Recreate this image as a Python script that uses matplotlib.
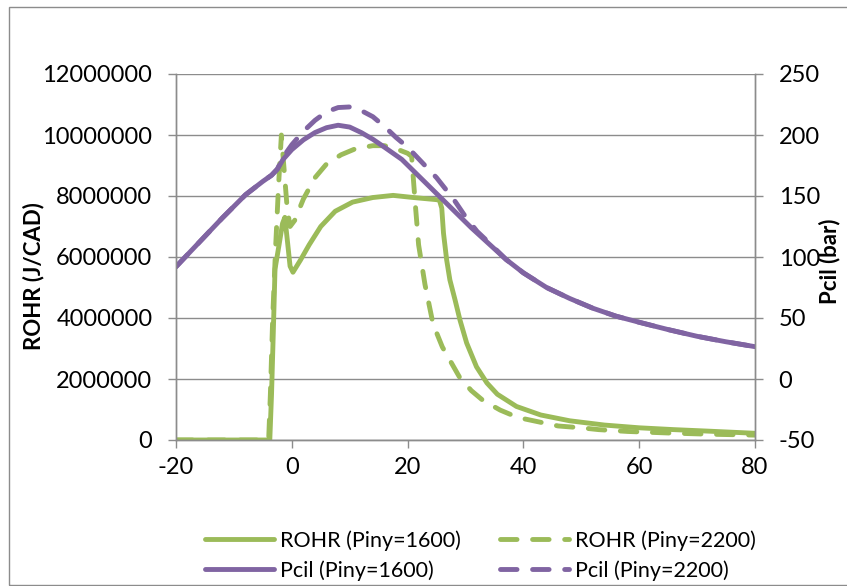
import matplotlib
matplotlib.use('Agg')
import matplotlib.pyplot as plt
from matplotlib.patches import Rectangle

plt.rcParams['font.family'] = ['Lato', 'DejaVu Sans']
plt.rcParams['axes.unicode_minus'] = False

GREEN = '#9BBB59'
PURPLE = '#8064A2'
GRID = '#8c8c8c'

# ROHR (J/CAD), values in millions
rohr1600_x = [-20, -3.8, -3.5, -3.2, -2.9, -2.2, -1.6, -1.2, -0.8, -0.3, 0.2, 1.5, 3, 5, 7.5,
              10.5, 14, 17.5, 21, 25, 25.5, 25.9, 26.2, 26.75, 27.3, 28.2, 29.05, 30.2, 31.9,
              33.7, 35.5, 38.8, 43, 48, 54, 60, 66, 72, 80]
rohr1600_y = [0, 0, 1.5, 3.5, 5.6, 6.4, 7.1, 7.3, 6.6, 5.7, 5.5, 5.9, 6.4, 7.0, 7.5,
              7.8, 7.95, 8.02, 7.95, 7.88, 7.86, 7.6, 6.78, 5.9, 5.25, 4.59, 3.93, 3.18, 2.40,
              1.87, 1.50, 1.10, 0.82, 0.63, 0.49, 0.40, 0.34, 0.29, 0.22]

rohr2200_x = [-20, -4.0, -3.7, -3.3, -2.8, -2.3, -1.8, -1.3, -0.8, -0.3, 0.5, 2, 4, 6, 8.5,
              11, 14, 16, 18, 20, 20.7, 21.3, 21.9, 23, 24.4, 26, 27.5, 29, 31, 33, 36, 39,
              43, 46, 50, 53, 58, 65, 72, 80]
rohr2200_y = [0, 0, 1.5, 4.0, 6.3, 8.3, 10.0, 8.8, 7.6, 7.0, 7.2, 7.9, 8.6, 9.05, 9.35,
              9.55, 9.65, 9.65, 9.55, 9.4, 9.3, 7.8, 6.4, 5.1, 3.8, 3.05, 2.55, 2.05, 1.62, 1.3, 0.98, 0.74,
              0.58, 0.46, 0.40, 0.34, 0.28, 0.23, 0.19, 0.16]

# Pcil (bar)
pcil1600_x = [-20, -16, -12, -8, -5, -3.5, -2.5, -1.5, 0, 2, 4, 6, 8, 10, 12, 14, 16, 19, 22,
              25, 28, 31, 34, 37, 40, 44, 48, 52, 56, 60, 65, 70, 75, 80]
pcil1600_y = [92, 112, 132, 151, 162, 167, 172, 180, 188, 196, 202, 206, 208, 206.5, 202, 196.5,
              190, 180, 166, 152, 138, 124, 111, 98, 87, 75, 66, 58, 51.5, 46.5, 40.5, 35, 30.5, 26.5]

pcil2200_x = [-20, -16, -12, -8, -5, -3.5, -2.5, -1.5, 0, 2, 4, 6, 8, 10, 12, 14, 16, 18, 20,
              22, 25, 28, 30, 32, 34, 37, 40, 44, 48, 52, 56, 60, 65, 70, 75, 80]
pcil2200_y = [92, 112, 132, 151, 162, 167, 172, 182, 192, 203, 212, 219, 222.5, 223, 220, 215,
              207, 198, 190, 180, 165, 147, 133, 121, 112, 98, 87, 75, 66, 58, 51.5, 46.5, 40.5,
              35, 30.5, 26.5]

fig = plt.figure(figsize=(8.47, 5.86), dpi=100)
ax = fig.add_axes([176 / 847, 1 - 440 / 586, (755 - 176) / 847, (440 - 74) / 586])
ax2 = ax.twinx()

lw = 3.5
dash = (3.4, 3.2)
l1, = ax.plot(rohr1600_x, [v * 1e6 for v in rohr1600_y], color=GREEN, lw=lw,
              solid_capstyle='round', solid_joinstyle='round', label='ROHR (Piny=1600)')
l2, = ax.plot(rohr2200_x, [v * 1e6 for v in rohr2200_y], color=GREEN, lw=lw,
              dashes=dash, dash_capstyle='round', label='ROHR (Piny=2200)')
l3, = ax2.plot(pcil1600_x, pcil1600_y, color=PURPLE, lw=lw,
               solid_capstyle='round', solid_joinstyle='round', label='Pcil (Piny=1600)')
l4, = ax2.plot(pcil2200_x, pcil2200_y, color=PURPLE, lw=lw,
               dashes=dash, dash_capstyle='round', label='Pcil (Piny=2200)')

ax.set_xlim(-20, 80)
ax.set_xticks(range(-20, 81, 20))
ax.set_ylim(0, 12e6)
ax.set_yticks(range(0, 12000001, 2000000))
ax.set_yticklabels([str(v) for v in range(0, 12000001, 2000000)])
ax2.set_ylim(-50, 250)
ax2.set_yticks(range(-50, 251, 50))

ax.grid(axis='y', color=GRID, lw=1)
ax.set_axisbelow(True)

for a in (ax, ax2):
    for s in a.spines.values():
        s.set_color(GRID)
        s.set_linewidth(1)
    a.spines['top'].set_visible(False)
ax.tick_params(axis='both', colors=GRID, labelcolor='black', labelsize=17, length=6, width=1)
ax.tick_params(axis='y', pad=11)
ax.tick_params(axis='x', pad=6)
ax2.tick_params(axis='y', colors=GRID, labelcolor='black', labelsize=17, length=6, width=1, pad=11)

fig.text(34 / 847, 1 - 276 / 586, 'ROHR (J/CAD)', rotation=90, ha='center', va='center',
         fontsize=16, fontweight='bold')
fig.text(830 / 847, 1 - 261 / 586, 'Pcil (bar)', rotation=90, ha='center', va='center',
         fontsize=16, fontweight='bold')

fig.legend(handles=[l1, l3, l2, l4], ncol=2, loc='center', bbox_to_anchor=(0.567, 0.052),
           frameon=False, fontsize=15.5, handlelength=3.2, handletextpad=0.3,
           columnspacing=1.8, labelspacing=0.45, borderpad=0)

fig.patches.append(Rectangle((9 / 847, 1 / 586), 1.0, 578 / 586, transform=fig.transFigure,
                             fill=False, edgecolor='#8c8c8c', lw=1))

fig.savefig('out.png', dpi=100)
